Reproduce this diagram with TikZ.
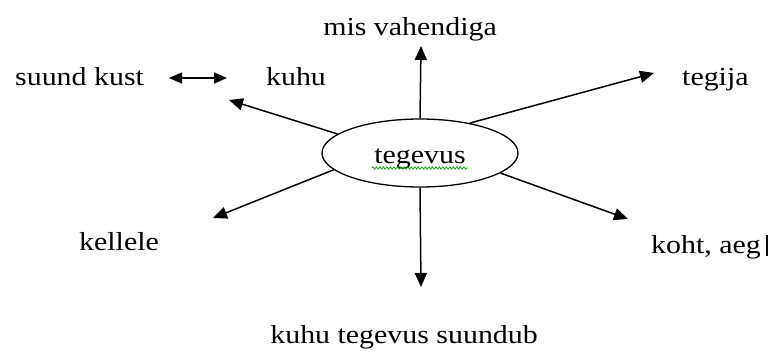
\documentclass[tikz,border=0pt]{standalone}
\usepackage{fontspec}
\setmainfont[FakeStretch=1.15]{Liberation Serif}
\usetikzlibrary{shapes.geometric,arrows.meta,decorations.pathmorphing}
\begin{document}
\begin{tikzpicture}[x=1pt,y=-1pt,
  lbl/.style={inner sep=0pt,font=\fontsize{26}{30}\selectfont,text=black},
  arr/.style={line width=1.5pt,-{Triangle[length=14pt,width=12pt]}},
  darr/.style={line width=1.5pt,{Triangle[length=13pt,width=11pt]}-{Triangle[length=13pt,width=11pt]}}]
\useasboundingbox[fill=white] (0,0) rectangle (772,354);
\node[draw,ellipse,line width=1.3pt,minimum width=196pt,minimum height=68pt,inner sep=0pt,
  text height=20pt,text depth=0pt,font=\fontsize{26}{30}\selectfont] (e) at (420,153) {tegevus};
\node[lbl,anchor=base west] (sk) at (15,85) {suund kust};
\node[lbl,anchor=base] (ku) at (296,85) {kuhu};
\node[lbl,anchor=base east] (mv) at (497,35) {mis vahendiga};
\node[lbl,anchor=base west] (tg) at (682,85) {tegija};
\node[lbl,anchor=base] (kl) at (119,250) {kellele};
\node[lbl,anchor=base west] (ka) at (651,253) {koht, aeg};
\node[lbl,anchor=base east] (ts) at (538,343) {kuhu tegevus suundub};
\coordinate (tUp) at (421,46);
\coordinate (tDn) at (421,287);
\coordinate (tTg) at (654,73);
\coordinate (tKa) at (628,219);
\coordinate (tKl) at (213,218);
\coordinate (tKu) at (229,100);
\coordinate (dA) at (169,78);
\coordinate (dB) at (227,78);
\draw[arr] (e.north) -- (tUp);
\draw[arr] (e.south) -- (tDn);
\draw[arr] (e.31) -- (tTg);
\draw[arr] (e.-14) -- (tKa);
\draw[arr] (e.191) -- (tKl);
\draw[arr] (e.167) -- (tKu);
\draw[darr] (dA) -- (dB);
% spell-check squiggle and caret
\coordinate (sqA) at (372,168);
\coordinate (sqB) at (468,168);
\draw[green!60!black,line width=0.6pt,decorate,decoration={zigzag,amplitude=1.3pt,segment length=3.5pt}] (sqA) -- (sqB);
\coordinate (cA) at (767,235);
\coordinate (cB) at (767,256);
\draw[line width=1.8pt] (cA) -- (cB);
\end{tikzpicture}
\end{document}
